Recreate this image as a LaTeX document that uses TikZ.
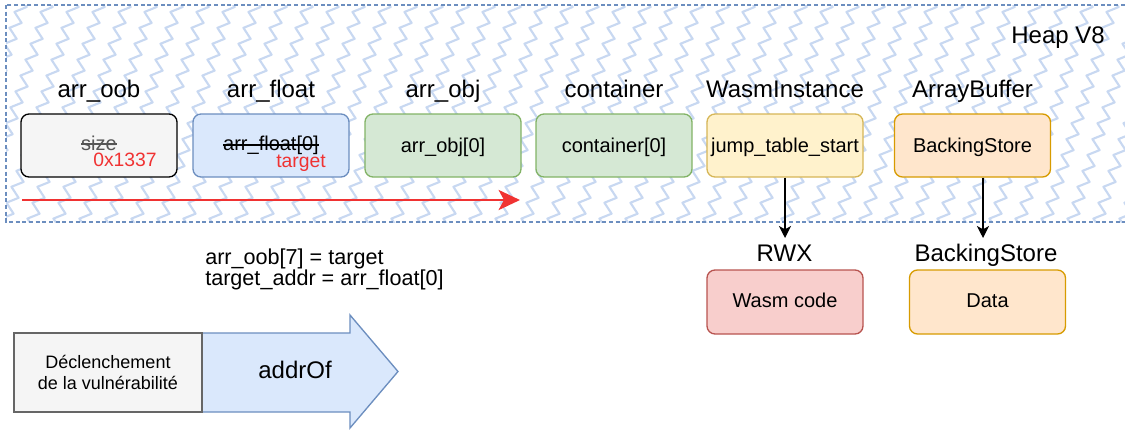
\documentclass[tikz,border=0pt]{standalone}
\usepackage{fontspec}
\setmainfont{Liberation Sans}
\usetikzlibrary{arrows.meta,decorations.pathmorphing}

% struck-through text
\newcommand{\strk}[1]{\setbox0\hbox{#1}\rlap{\rule[0.26em]{\wd0}{1.1pt}}\box0}

\definecolor{heapline}{HTML}{6C8EBF}
\definecolor{heapzig}{HTML}{C8D8F1}
\definecolor{greyfill}{HTML}{F5F5F5}
\definecolor{greydraw}{HTML}{666666}
\definecolor{bluefill}{HTML}{DAE8FC}
\definecolor{bluedraw}{HTML}{6C8EBF}
\definecolor{greenfill}{HTML}{D5E8D4}
\definecolor{greendraw}{HTML}{82B366}
\definecolor{yellowfill}{HTML}{FFF2CC}
\definecolor{yellowdraw}{HTML}{D6B656}
\definecolor{orangefill}{HTML}{FFE6CC}
\definecolor{orangedraw}{HTML}{D79B00}
\definecolor{redfill}{HTML}{F8CECC}
\definecolor{reddraw}{HTML}{B85450}
\definecolor{arrowred}{HTML}{F03232}
\definecolor{textgrey}{HTML}{555555}

\tikzset{
  cell/.style={draw, rounded corners=6pt, line width=1pt,
    minimum width=117pt, minimum height=47.25pt, inner sep=0pt,
    font=\fontsize{15}{18}\selectfont, text height=9.8pt, text depth=0pt},
  title/.style={font=\fontsize{18}{21}\selectfont, anchor=base, inner sep=0pt},
  note/.style={text=arrowred, font=\fontsize{14.5}{17}\selectfont, anchor=base east, inner sep=0pt},
  codeline/.style={font=\fontsize{16.2}{19}\selectfont, anchor=base west, inner sep=0pt},
  conn/.style={draw=black, line width=1pt, -{Stealth[length=9pt,width=9pt,inset=2.5pt]}},
  zig/.style={draw=heapzig, line width=1.6pt, line join=round, decorate,
    decoration={zigzag, segment length=12.5pt, amplitude=3.8pt}}
}

\begin{document}
\begin{tikzpicture}[x=0.75pt,y=-0.75pt]
\useasboundingbox (0,0) rectangle (1125,429);

% heap area: zigzag hatching inside a dashed frame
\begin{scope}
  \clip (6,5) rectangle (1135,222);
  \foreach \k in {-4,...,44}
    \draw[zig] (\k*26,240) -- ++(90,-286);
\end{scope}
\draw[heapline, line width=1.1pt, dash pattern=on 3pt off 2pt] (6,5) rectangle (1135,222);
\node[title, anchor=base east] (heaplbl) at (1105,43) {Heap V8};

% objects on the heap
\node[title] (toob)  at (99,97)    {arr\_oob};
\node[title] (tflt)  at (271,97)   {arr\_float};
\node[title] (tobj)  at (443,97)   {arr\_obj};
\node[title] (tcont) at (614,97)   {container};
\node[title] (twasm) at (785,97)   {WasmInstance};
\node[title] (tab)   at (972.5,97) {ArrayBuffer};

\node[cell, fill=greyfill, draw=black, text height=6.8pt] (oob) at (99,145.5) {\color{textgrey}\strk{size}};
\node[cell, fill=bluefill, draw=bluedraw, text height=8.2pt] (flt) at (271,145.5) {\strk{arr\_float[0]}};
\node[cell, fill=greenfill, draw=greendraw] (obj)  at (443,145.5) {arr\_obj[0]};
\node[cell, fill=greenfill, draw=greendraw] (cont) at (614,145.5) {container[0]};
\node[cell, fill=yellowfill, draw=yellowdraw] (wasm) at (785,145.5) {jump\_table\_start};
\node[cell, fill=orangefill, draw=orangedraw] (ab)   at (972.5,145.5) {BackingStore};

\node[note] (nsize)   at (157,166) {0x1337};
\node[note] (ntarget) at (326,167) {target};

% out-of-bounds write direction
\coordinate (oobstart) at (22,200);
\coordinate (oobend)   at (520,200);
\draw[arrowred, line width=2.2pt, -{Stealth[length=16pt,width=15pt,inset=4pt]}] (oobstart) -- (oobend);

% pointers leaving the heap
\coordinate (rwxtip) at (785,238);
\coordinate (bstip)  at (983,238);
\draw[conn] (wasm) -- (rwxtip);
\draw[conn] (ab.south -| bstip) -- (bstip);

\node[title] (rwx)   at (784.5,261) {RWX};
\node[title] (bslbl) at (986,261)   {BackingStore};
\node[cell, fill=redfill, draw=reddraw, minimum height=48pt, text height=7.5pt] (code) at (785,302) {Wasm code};
\node[cell, fill=orangefill, draw=orangedraw, minimum height=48pt, text height=7.5pt] (data) at (987.5,302) {Data};

% primitive code
\node[codeline] (line1) at (205,264) {arr\_oob[7] = target};
\node[codeline] (line2) at (205,285) {target\_addr = arr\_float[0]};

% exploitation steps
\draw[fill=bluefill, draw=bluedraw, line width=1pt]
  (202,333) -- (350,333) -- (350,315) -- (398,371.5) -- (350,428) -- (350,412) -- (202,412) -- cycle;
\node[title] (addrof) at (295,378) {addrOf};
\node[draw=greydraw, fill=greyfill, line width=1pt, minimum width=141pt, minimum height=59.25pt,
      inner sep=0pt, align=center, font=\fontsize{13.5}{15.75}\selectfont] (trigger) at (108,372.5)
      {Déclenchement\\de la vulnérabilité};
\end{tikzpicture}
\end{document}
